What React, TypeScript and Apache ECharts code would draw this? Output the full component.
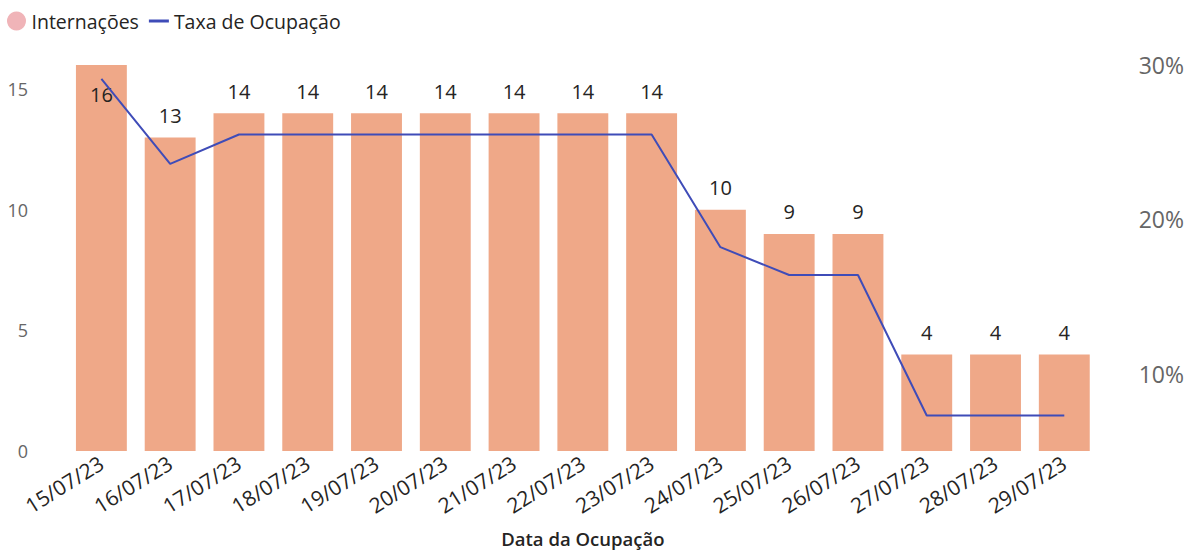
import React, { useEffect, useRef } from "react";
import * as echarts from "echarts";

const categories = ["15/07/23", "16/07/23", "17/07/23", "18/07/23", "19/07/23", "20/07/23", "21/07/23", "22/07/23", "23/07/23", "24/07/23", "25/07/23", "26/07/23", "27/07/23", "28/07/23", "29/07/23"];
const internacoes = [16, 13, 14, 14, 14, 14, 14, 14, 14, 10, 9, 9, 4, 4, 4];
const taxaOcupacao = [0.291, 0.236, 0.255, 0.255, 0.255, 0.255, 0.255, 0.255, 0.255, 0.182, 0.164, 0.164, 0.073, 0.073, 0.073];

const FONT = "'Segoe UI', 'Open Sans', 'Noto Sans', sans-serif";

export default function App() {
  const ref = useRef<HTMLDivElement>(null);
  useEffect(() => {
    if (!ref.current) return;
    const chart = echarts.init(ref.current, undefined, { renderer: "svg" });
    chart.setOption({
      animation: false,
      textStyle: { fontFamily: FONT },
      legend: {
        left: 2,
        top: 6,
        itemGap: 10,
        itemWidth: 20,
        itemHeight: 19,
        textStyle: { fontSize: 19.5, color: "#252423", fontFamily: FONT },
        data: [
          { name: "Internações", icon: "circle", itemStyle: { color: "#f0b4b8" } },
          { name: "Taxa de Ocupação", icon: "path://M0,0 L20,0 L20,3 L0,3 Z", itemStyle: { color: "#3f4cb8" } },
        ],
      },
      grid: { left: 67, right: 86, top: 65, bottom: 94 },
      xAxis: {
        type: "category",
        data: categories,
        name: "Data da Ocupação",
        nameLocation: "middle",
        nameGap: 78,
        nameTextStyle: { fontSize: 18.5, color: "#252423", fontWeight: 600, fontFamily: FONT },
        axisLine: { show: false },
        axisTick: { show: false },
        axisLabel: { rotate: 32, fontSize: 21, color: "#252423", margin: 10, fontFamily: FONT, interval: 0 },
      },
      yAxis: [
        {
          type: "value",
          min: 0,
          max: 16,
          interval: 5,
          splitLine: { show: false },
          axisLine: { show: false },
          axisTick: { show: false },
          axisLabel: {
            fontSize: 18,
            color: "#666666",
            margin: 39,
            fontFamily: FONT,
            formatter: (v: number) => (v % 5 === 0 ? String(v) : ""),
          },
        },
        {
          type: "value",
          min: 0.05,
          max: 0.3,
          interval: 0.05,
          position: "right",
          splitLine: { show: false },
          axisLine: { show: false },
          axisTick: { show: false },
          axisLabel: {
            fontSize: 23,
            color: "#666666",
            margin: 40,
            fontFamily: FONT,
            formatter: (v: number) => {
              const p = Math.round(v * 100);
              return p % 10 === 0 ? p + "%" : "";
            },
          },
        },
      ],
      series: [
        {
          name: "Internações",
          type: "bar",
          yAxisIndex: 0,
          barCategoryGap: "26%",
          itemStyle: { color: "#efa888" },
          data: internacoes.map((v, i) =>
            i === 0
              ? { value: v, label: { position: "insideTop", distance: 19 } }
              : v
          ),
          label: {
            show: true,
            position: "top",
            distance: 12,
            fontSize: 20,
            color: "#252423",
            fontFamily: FONT,
          },
        },
        {
          name: "Taxa de Ocupação",
          type: "line",
          yAxisIndex: 1,
          data: taxaOcupacao,
          symbol: "none",
          lineStyle: { color: "#3f4cb8", width: 2 },
          itemStyle: { color: "#3f4cb8" },
        },
      ],
    });
    return () => chart.dispose();
  }, []);
  return <div ref={ref} style={{ position: "absolute", left: 0, top: 0, width: 1187, height: 553 }} />;
}
